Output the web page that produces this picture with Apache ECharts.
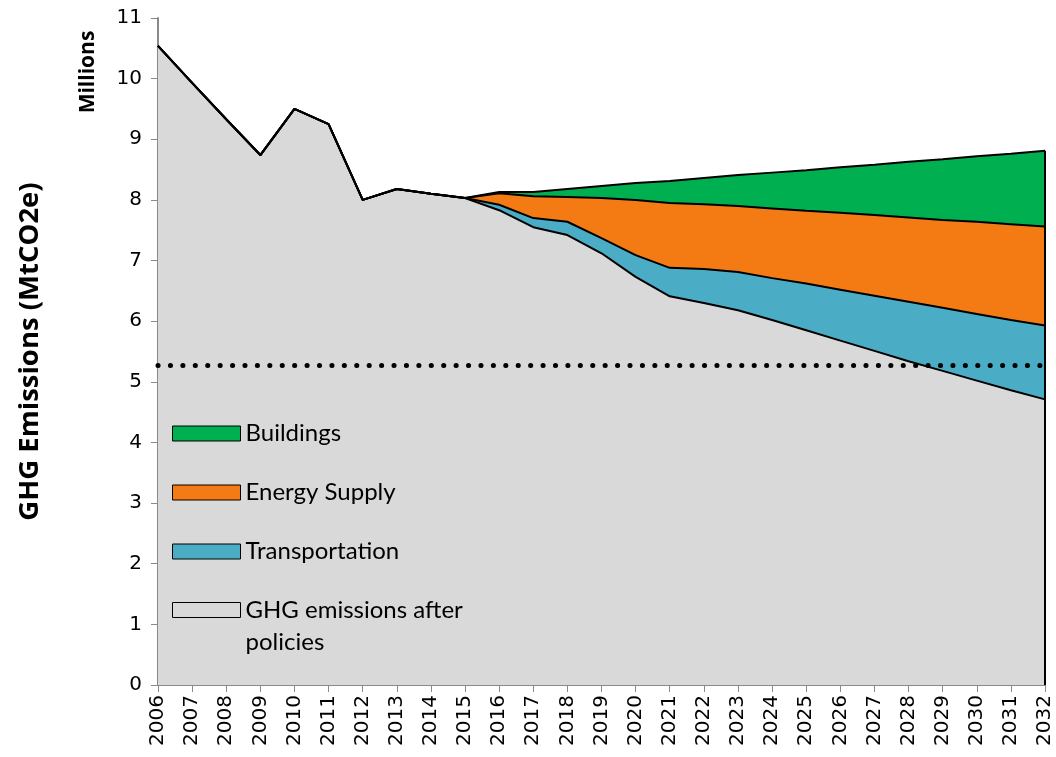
<!DOCTYPE html>
<html>
<head>
<meta charset="utf-8">
<script src="https://cdn.jsdelivr.net/npm/echarts@6/dist/echarts.min.js"></script>
<style>
  html, body { margin: 0; padding: 0; background: #fff; }
  #chart { width: 1056px; height: 757px; }
</style>
</head>
<body>
<div id="chart"></div>
<script>
var years = ['2006', '2007', '2008', '2009', '2010', '2011', '2012', '2013', '2014', '2015', '2016', '2017', '2018', '2019',
  '2020', '2021', '2022', '2023', '2024', '2025', '2026', '2027', '2028', '2029', '2030', '2031', '2032']

// millions of tCO2e, stacked from the bottom up
var afterPolicies = [10.54, 9.93, 9.33, 8.74, 9.50, 9.25, 8.00, 8.18, 8.10, 8.03, 7.83, 7.55, 7.42, 7.12,
  6.73, 6.41, 6.30, 6.18, 6.02, 5.85, 5.68, 5.51, 5.34, 5.18, 5.02, 4.86, 4.71]
var transportation = [0, 0, 0, 0, 0, 0, 0, 0, 0, 0, 0.09, 0.15, 0.22, 0.25,
  0.36, 0.47, 0.56, 0.63, 0.69, 0.77, 0.84, 0.91, 0.98, 1.04, 1.10, 1.16, 1.22]
var energySupply = [0, 0, 0, 0, 0, 0, 0, 0, 0, 0, 0.19, 0.36, 0.41, 0.66,
  0.91, 1.07, 1.07, 1.09, 1.15, 1.20, 1.27, 1.33, 1.39, 1.45, 1.52, 1.58, 1.63]
var buildings = [0, 0, 0, 0, 0, 0, 0, 0, 0, 0, 0.02, 0.07, 0.13, 0.20,
  0.28, 0.36, 0.43, 0.51, 0.59, 0.67, 0.75, 0.83, 0.92, 1.00, 1.08, 1.16, 1.25]

var targetLevel = 5.28

var chartDom = document.getElementById('chart')
var myChart = echarts.init(chartDom)
var option

var lastYear = years[years.length - 1]
var lastTotal = afterPolicies[afterPolicies.length - 1] + transportation[transportation.length - 1] +
  energySupply[energySupply.length - 1] + buildings[buildings.length - 1]

function areaSeries (name, data, color) {
  return {
    name: name,
    type: 'line',
    stack: 'total',
    data: data,
    showSymbol: false,
    symbol: 'none',
    itemStyle: { color: color, borderColor: '#000', borderWidth: 1 },
    lineStyle: { color: '#000', width: 2 },
    areaStyle: { color: color, opacity: 1 },
    emphasis: { disabled: true }
  }
}

var ghg = areaSeries('GHG emissions after policies', afterPolicies, '#d9d9d9')
ghg.markLine = {
  silent: true,
  symbol: 'none',
  label: { show: false },
  lineStyle: { color: '#000', width: 5, type: [0.1, 12.32], cap: 'round' },
  data: [{ yAxis: targetLevel }]
}

var bld = areaSeries('Buildings', buildings, '#00b050')
bld.markLine = {
  silent: true,
  symbol: 'none',
  label: { show: false },
  lineStyle: { color: '#000', width: 2, type: 'solid' },
  data: [[{ coord: [lastYear, 0] }, { coord: [lastYear, lastTotal] }]]
}

var legendText = { fontFamily: 'Lato', fontSize: 24, color: '#000' }

option = {
  animation: false,
  grid: { left: 158, right: 11, top: 18, bottom: 72 },
  legend: [
    {
      data: ['Buildings', 'Energy Supply', 'Transportation'],
      orient: 'vertical',
      left: 167,
      top: 414,
      itemWidth: 68,
      itemHeight: 15,
      itemGap: 30,
      icon: 'rect',
      itemStyle: { borderColor: '#000', borderWidth: 1 },
      textStyle: Object.assign({ lineHeight: 29 }, legendText)
    },
    {
      data: ['GHG emissions after policies'],
      orient: 'vertical',
      left: 167,
      top: 557,
      itemWidth: 68,
      itemHeight: 15,
      icon: 'rect',
      itemStyle: { borderColor: '#000', borderWidth: 1 },
      // blank first line keeps the icon level with the first line of text
      formatter: function () { return '{e| }\n{t|GHG emissions after}\n{t|policies}' },
      textStyle: Object.assign({
        lineHeight: 32,
        rich: {
          e: Object.assign({ lineHeight: 32 }, legendText),
          t: Object.assign({ lineHeight: 32 }, legendText)
        }
      }, legendText)
    }
  ],
  xAxis: {
    type: 'category',
    boundaryGap: false,
    data: years,
    axisLine: { lineStyle: { color: '#898989', width: 2 } },
    axisTick: { show: true, length: 7, interval: 0, lineStyle: { color: '#898989', width: 1 } },
    axisLabel: { rotate: 90, interval: 0, margin: 10, fontFamily: 'DejaVu Sans', fontSize: 20, color: '#000' }
  },
  yAxis: {
    type: 'value',
    min: 0,
    max: 11,
    interval: 1,
    name: 'GHG Emissions (MtCO2e)',
    nameLocation: 'middle',
    nameGap: 114,
    nameRotate: 90,
    nameTextStyle: { fontFamily: 'Open Sans', fontWeight: 'bold', fontSize: 27.5, color: '#000' },
    axisLine: { show: true, lineStyle: { color: '#898989', width: 2 } },
    axisTick: { show: true, length: 7, lineStyle: { color: '#898989', width: 1 } },
    splitLine: { show: false },
    axisLabel: { margin: 16, fontFamily: 'DejaVu Sans', fontSize: 20, color: '#000' }
  },
  graphic: [
    {
      type: 'text',
      x: 88,
      y: 72,
      rotation: Math.PI / 2,
      style: {
        text: 'Millions',
        fontFamily: 'Open Sans',
        fontWeight: 'bold',
        fontSize: 21,
        fill: '#000',
        align: 'center',
        verticalAlign: 'middle'
      }
    }
  ],
  series: [
    ghg,
    areaSeries('Transportation', transportation, '#4bacc6'),
    areaSeries('Energy Supply', energySupply, '#f47a14'),
    bld
  ]
}

option && myChart.setOption(option)
</script>
</body>
</html>
